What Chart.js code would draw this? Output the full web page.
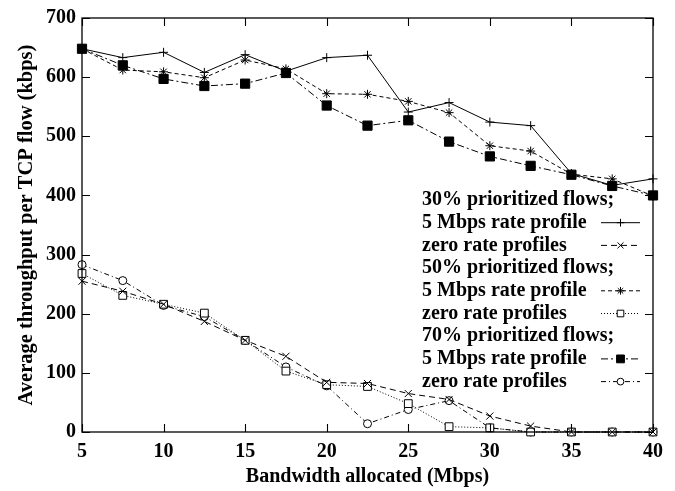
<!DOCTYPE html>
<html>
<head>
<meta charset="utf-8">
<script src="https://cdn.jsdelivr.net/npm/chart.js@4/dist/chart.umd.min.js"></script>
<style>
html, body { margin: 0; padding: 0; background: #fff; }
#wrap { width: 675px; height: 491px; position: relative; }
</style>
</head>
<body>
<div id="wrap"><canvas id="chartLine"></canvas></div>
<script>
// bandwidth allocated (Mbps)
let bandwidth = [5, 7.5, 10, 12.5, 15, 17.5, 20, 22.5, 25, 27.5, 30, 32.5, 35, 37.5, 40];
let xTicks = [5, 10, 15, 20, 25, 30, 35, 40];
let yTicks = [0, 100, 200, 300, 400, 500, 600, 700];

// throughput per TCP flow (kbps)
let p30Rate = [648, 633, 642, 608, 638, 610, 633, 637, 541, 557, 524, 518, 437, 417, 428];
let p30Zero = [255, 238, 216, 187, 155, 128, 84, 82, 65, 55, 27, 10, 0, 0, 0];
let p50Rate = [648, 612, 609, 599, 629, 614, 572, 571, 559, 540, 484, 475, 436, 428, 399];
let p50Zero = [268, 231, 216, 201, 155, 103, 80, 77, 48, 9, 7, 0, 0, 0, 0];
let p70Rate = [648, 620, 597, 585, 589, 607, 552, 518, 527, 491, 466, 450, 435, 416, 400];
let p70Zero = [283, 256, 214, 195, 155, 110, 78, 14, 38, 53, 7, 0, 0, 0, 0];

let groupTitles = ['30% prioritized flows;', '50% prioritized flows;', '70% prioritized flows;'];
let seriesNames = ['5 Mbps rate profile', 'zero rate profiles'];

let serif = "'Liberation Serif', 'DejaVu Serif', serif";

function pts(values) {
  return values.map((v, i) => ({ x: bandwidth[i], y: v }));
}

function line(label, values, dash, style, radius, fill) {
  return {
    label: label,
    data: pts(values),
    borderColor: '#000',
    borderWidth: 1,
    borderDash: dash,
    pointStyle: style,
    pointRadius: radius,
    pointHoverRadius: radius,
    pointBorderColor: '#000',
    pointBorderWidth: 1,
    pointBackgroundColor: fill,
    tension: 0,
    clip: false
  };
}

let datasets = [
  line(seriesNames[0], p30Rate, [], 'cross', 4.5, '#000'),
  line(seriesNames[1], p30Zero, [6, 4], 'crossRot', 5, '#000'),
  line(seriesNames[0], p50Rate, [4, 3], 'star', 4.5, '#000'),
  line(seriesNames[1], p50Zero, [1, 2], 'rect', 5.5, '#fff'),
  line(seriesNames[0], p70Rate, [7, 3, 2, 3], 'rect', 6.5, '#000'),
  line(seriesNames[1], p70Zero, [5, 3, 1, 3], 'circle', 4, '#fff')
];

// gnuplot-like box with inward ticks
let framePlugin = {
  id: 'frame',
  afterDraw(chart) {
    let ctx = chart.ctx;
    let a = chart.chartArea;
    let xs = chart.scales.x, ys = chart.scales.y;
    ctx.save();
    ctx.strokeStyle = '#000';
    ctx.lineWidth = 1.3;
    ctx.strokeRect(a.left, a.top, a.right - a.left, a.bottom - a.top);
    ctx.beginPath();
    ctx.lineWidth = 1.1;
    xTicks.forEach(t => {
      let px = Math.round(xs.getPixelForValue(t)) + 0.5;
      ctx.moveTo(px, a.bottom); ctx.lineTo(px, a.bottom - 8);
      ctx.moveTo(px, a.top); ctx.lineTo(px, a.top + 8);
    });
    yTicks.forEach(t => {
      let py = Math.round(ys.getPixelForValue(t)) + 0.5;
      ctx.moveTo(a.left, py); ctx.lineTo(a.left + 8, py);
      ctx.moveTo(a.right, py); ctx.lineTo(a.right - 8, py);
    });
    ctx.stroke();
    ctx.restore();
  }
};

// legend drawn inside the plot: a header line then two samples per group
let keyPlugin = {
  id: 'key',
  afterDatasetsDraw(chart) {
    let ctx = chart.ctx;
    let textX = 422, top = 200, step = 22.7;
    let sx0 = 601, sx1 = 640;
    ctx.save();
    ctx.font = 'bold 20px ' + serif;
    ctx.fillStyle = '#000';
    ctx.textBaseline = 'middle';
    let row = 0;
    groupTitles.forEach((title, g) => {
      ctx.fillText(title, textX, top + row * step);
      row++;
      [0, 1].forEach(k => {
        let ds = chart.data.datasets[g * 2 + k];
        let y = top + row * step;
        ctx.fillText(ds.label, textX, y);
        ctx.beginPath();
        ctx.strokeStyle = '#000';
        ctx.lineWidth = 1;
        ctx.setLineDash(ds.borderDash);
        ctx.moveTo(sx0, y); ctx.lineTo(sx1, y);
        ctx.stroke();
        ctx.setLineDash([]);
        ctx.fillStyle = ds.pointBackgroundColor;
        ctx.strokeStyle = '#000';
        Chart.helpers.drawPoint(ctx, { pointStyle: ds.pointStyle, radius: ds.pointRadius * 0.85, rotation: 0, borderWidth: 1 }, (sx0 + sx1) / 2, y);
        ctx.fillStyle = '#000';
        row++;
      });
    });
    ctx.restore();
  }
};

let chartLine = new Chart(document.getElementById('chartLine').getContext('2d'), {
  type: 'line',
  data: { datasets: datasets },
  options: {
    responsive: true,
    maintainAspectRatio: false,
    animation: false,
    layout: { padding: { top: 12, right: 22, left: 0, bottom: 0 } },
    plugins: { legend: { display: false }, tooltip: { enabled: false } },
    scales: {
      x: {
        type: 'linear',
        min: 5,
        max: 40,
        afterFit(scale) { scale.height = 59; },
        afterBuildTicks(scale) { scale.ticks = xTicks.map(v => ({ value: v })); },
        grid: { display: false, drawTicks: false },
        border: { display: false },
        ticks: { color: '#000', padding: 8, font: { family: serif, size: 20, weight: 'bold' } },
        title: { display: true, text: 'Bandwidth allocated (Mbps)', color: '#000', padding: { top: 0, bottom: 2 }, font: { family: serif, size: 20, weight: 'bold' } }
      },
      y: {
        min: 0,
        max: 700,
        afterFit(scale) { scale.width = 82; },
        afterBuildTicks(scale) { scale.ticks = yTicks.map(v => ({ value: v })); },
        grid: { display: false, drawTicks: false },
        border: { display: false },
        ticks: { color: '#000', padding: 6, font: { family: serif, size: 20, weight: 'bold' } },
        title: { display: true, text: 'Average throughput per TCP flow (kbps)', color: '#000', padding: { top: 14, bottom: 0 }, font: { family: serif, size: 20.5, weight: 'bold' } }
      }
    }
  },
  plugins: [framePlugin, keyPlugin]
});
</script>
</body>
</html>
